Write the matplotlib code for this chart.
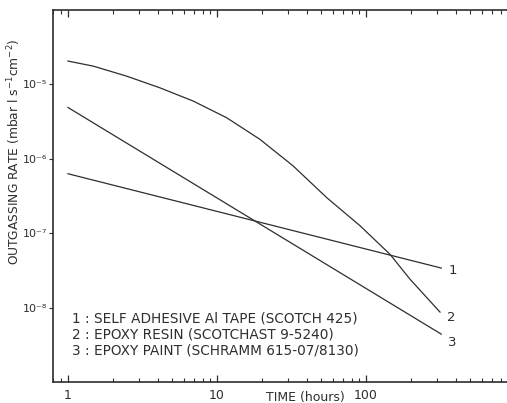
import numpy as np
import matplotlib
matplotlib.use('Agg')
import matplotlib.pyplot as plt
from matplotlib.ticker import LogLocator, NullLocator, FixedLocator, FixedFormatter

# outgassing rate vs pumping time (log-log)
tape_hours = [1, 320]
tape_rate = [6.3e-7, 3.4e-8]

resin_hours = [1, 1.48, 2.48, 4.14, 6.93, 11.6, 19.4, 32.5, 54.5, 91.2, 145, 197, 314]
resin_rate = [2.06e-5, 1.76e-5, 1.29e-5, 9.0e-6, 5.97e-6, 3.57e-6, 1.83e-6,
              8.0e-7, 3.01e-7, 1.26e-7, 5.2e-8, 2.42e-8, 8.7e-9]

paint_hours = [1, 320]
paint_rate = [4.9e-6, 4.4e-9]

curve_ids = ['1', '2', '3']
materials = ['1 : SELF ADHESIVE Al TAPE (SCOTCH 425)',
             '2 : EPOXY RESIN (SCOTCHAST 9-5240)',
             '3 : EPOXY PAINT (SCHRAMM 615-07/8130)']

x_ticks = [1, 10, 100]
x_ticklabels = ['1', '10', '100']
y_ticks = [1e-8, 1e-7, 1e-6, 1e-5]
y_ticklabels = ['10⁻⁸', '10⁻⁷', '10⁻⁶', '10⁻⁵']

W, H = 507, 403
fig = plt.figure(figsize=(W / 100, H / 100), dpi=100)
ax = fig.add_axes([53 / W, (H - 382) / H, (515 - 53) / W, (382 - 10) / H])

ink = '#2e2e2e'
series = [(tape_hours, tape_rate), (resin_hours, resin_rate), (paint_hours, paint_rate)]
offsets = [(7, -2), (7, -5), (7, -8)]
for (hx, ry), cid, off in zip(series, curve_ids, offsets):
    ax.plot(hx, ry, color=ink, lw=0.9)
    ax.annotate(cid, xy=(hx[-1], ry[-1]), xytext=off, textcoords='offset pixels',
                ha='left', va='center', fontsize=9.5, color=ink)

ax.set_xscale('log')
ax.set_yscale('log')
ax.set_xlim(0.794, 1000)
ax.set_ylim(1e-9, 1e-4)

ax.xaxis.set_major_locator(FixedLocator(x_ticks))
ax.xaxis.set_major_formatter(FixedFormatter(x_ticklabels))
ax.xaxis.set_minor_locator(LogLocator(base=10, subs=np.arange(2, 10)))
ax.yaxis.set_major_locator(FixedLocator(y_ticks))
ax.yaxis.set_major_formatter(FixedFormatter(y_ticklabels))
ax.yaxis.set_minor_locator(NullLocator())

ax.tick_params(axis='x', which='major', direction='in', top=True, length=5,
               width=0.9, color=ink, labelsize=9, labelcolor=ink, pad=5)
ax.tick_params(axis='x', which='minor', direction='in', top=True, length=3,
               width=0.8, color=ink)
ax.tick_params(axis='y', which='major', direction='out', length=3, width=0.8,
               color=ink, labelsize=8, labelcolor=ink, pad=1)

for s in ax.spines.values():
    s.set_color(ink)
    s.set_linewidth(1.2)

for i, txt in enumerate(materials):
    fig.text(72 / W, 1 - (319 + 16 * i) / H, txt, fontsize=9.8, color=ink,
             ha='left', va='center')

fig.text(14 / W, 1 - 152 / H, r'OUTGASSING RATE (mbar l s$^{-1}$cm$^{-2}$)',
         rotation=90, ha='center', va='center', fontsize=8.8, color=ink)
fig.text(305 / W, 1 - 398 / H, 'TIME (hours)', ha='center', va='center',
         fontsize=9, color=ink)

fig.savefig('out.png', dpi=100)
